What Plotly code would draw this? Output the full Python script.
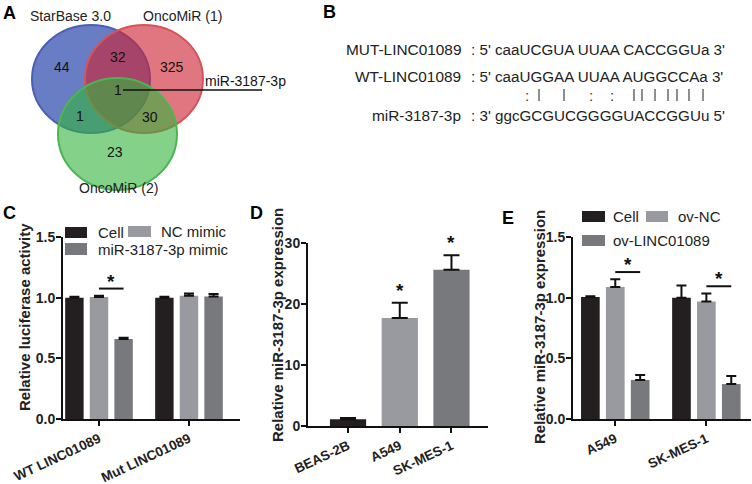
import plotly.graph_objects as go

W, H = 752, 484
FONT = "Liberation Sans, Arial, sans-serif"

# ---------------- data ----------------
# Panel A (Venn)
venn_sets = ["StarBase 3.0", "OncoMiR (1)", "OncoMiR (2)"]
# SB only, O1 only, O2 only, SB&O1, SB&O2, O1&O2, all three
venn_counts = [44, 325, 23, 32, 1, 30, 1]
venn_highlight = "miR-3187-3p"

# Panel B (sequence alignment)
seq_names = ["MUT-LINC01089", "WT-LINC01089", "miR-3187-3p"]
seq_texts = [": 5' caaUCGUA UUAA CACCGGUa 3'",
             ": 5' caaUGGAA UUAA AUGGCCAa 3'",
             ": 3' ggcGCGUCGGGGUACCGGUu 5'"]
pair_symbols = [":", "|", "|", ":", ":", "|", "|", "|", "|", "|", "|", "|"]

# Panel C
c_groups = ["WT LINC01089", "Mut LINC01089"]
c_series = ["Cell", "NC mimic", "miR-3187-3p mimic"]
c_values = [[1.00, 1.00], [1.005, 1.015], [0.66, 1.01]]
c_errors = [[0.008, 0.008], [0.01, 0.02], [0.01, 0.02]]
c_sig = [0]          # group index with significance bar (NC vs mimic)

# Panel D
d_cells = ["BEAS-2B", "A549", "SK-MES-1"]
d_values = [1.1, 17.7, 25.6]
d_errors = [0.2, 2.5, 2.4]
d_sig = [1, 2]

# Panel E
e_groups = ["A549", "SK-MES-1"]
e_series = ["Cell", "ov-NC", "ov-LINC01089"]
e_values = [[1.005, 1.0], [1.088, 0.968], [0.322, 0.288]]
e_errors = [[0.006, 0.10], [0.063, 0.066], [0.04, 0.066]]
e_sig = [0, 1]

# ---------------- style ----------------
colors = ["#231f20", "#989a9f", "#78797d"]
BARGAP, GROUPGAP = 0.18, 0.25
SLOT = (1 - BARGAP) / 3


def px(x):
    return x / W


def py(y):
    return 1 - y / H


fig = go.Figure()

# ---- bars C ----
for i, s in enumerate(c_series):
    fig.add_trace(go.Bar(
        x=list(range(len(c_groups))), y=c_values[i], name=s,
        marker=dict(color=colors[i], line=dict(width=0)),
        error_y=dict(type="data", array=c_errors[i], arrayminus=[0] * len(c_groups),
                     symmetric=False, color="#111", thickness=2, width=5),
        xaxis="x", yaxis="y", showlegend=False))

# ---- bars D ----
fig.add_trace(go.Bar(
    x=list(range(len(d_cells))), y=d_values, width=0.70,
    marker=dict(color=colors, line=dict(width=0)),
    error_y=dict(type="data", array=d_errors, arrayminus=[0] * len(d_cells),
                 symmetric=False, color="#111", thickness=2, width=8),
    xaxis="x2", yaxis="y2", showlegend=False))

# ---- bars E ----
for i, s in enumerate(e_series):
    fig.add_trace(go.Bar(
        x=list(range(len(e_groups))), y=e_values[i], name=s,
        marker=dict(color=colors[i], line=dict(width=0)),
        error_y=dict(type="data", array=e_errors[i], arrayminus=[0] * len(e_groups),
                     symmetric=False, color="#111", thickness=2, width=5),
        xaxis="x3", yaxis="y3", showlegend=False))

shapes = []
annotations = []

# significance bars C / E
def sig_bar(xr, yr, g, vals, errs):
    top = max(vals[1][g] + errs[1][g], vals[2][g] + errs[2][g])
    yl = top + 0.06
    shapes.append(dict(type="line", xref=xr, yref=yr, x0=g, x1=g + SLOT, y0=yl, y1=yl,
                       line=dict(color="#111", width=2)))
    annotations.append(dict(xref=xr, yref=yr, x=g + SLOT / 2, y=yl, text="<b>*</b>",
                            showarrow=False, yanchor="bottom", yshift=-5,
                            font=dict(size=19, color="#111", family=FONT)))

for g in c_sig:
    sig_bar("x", "y", g, c_values, c_errors)
for g in e_sig:
    sig_bar("x3", "y3", g, e_values, e_errors)
for g in d_sig:
    annotations.append(dict(xref="x2", yref="y2", x=g, y=d_values[g] + d_errors[g],
                            text="<b>*</b>", showarrow=False, yanchor="bottom", yshift=0,
                            font=dict(size=19, color="#111", family=FONT)))

# ---- panel A: Venn ----
venn_circles = [  # (x0, y0, x1, y1) in px, fill, line
    ((32, 25, 150, 133), "rgba(40,70,170,0.70)", "#4b5fb4"),
    ((85, 25, 203, 133), "rgba(205,35,50,0.62)", "#d6535c"),
    ((58, 78, 177, 190), "rgba(50,180,60,0.60)", "#4cb552"),
]
for (x0, y0, x1, y1), fc, lc in venn_circles:
    shapes.append(dict(type="circle", xref="paper", yref="paper",
                       x0=px(x0), x1=px(x1), y0=py(y1), y1=py(y0),
                       fillcolor=fc, line=dict(color=lc, width=2)))
venn_label_pos = [(70, 16), (182, 16), (118, 188)]
for name, (x, y) in zip(venn_sets, venn_label_pos):
    annotations.append(dict(xref="paper", yref="paper", x=px(x), y=py(y), text=name,
                            showarrow=False, xanchor="center", yanchor="middle",
                            font=dict(size=14, color="#222", family=FONT)))
venn_count_pos = [(62, 67), (172, 67), (115, 152), (118, 57), (80, 116), (150, 117), (118, 90)]
for cnt, (x, y) in zip(venn_counts, venn_count_pos):
    annotations.append(dict(xref="paper", yref="paper", x=px(x), y=py(y), text=str(cnt),
                            showarrow=False, xanchor="center", yanchor="middle",
                            font=dict(size=14, color="#111", family=FONT)))
shapes.append(dict(type="line", xref="paper", yref="paper", x0=px(123), x1=px(262),
                   y0=py(90), y1=py(90), line=dict(color="#111", width=1.5)))
annotations.append(dict(xref="paper", yref="paper", x=px(203), y=py(81), text=venn_highlight,
                        showarrow=False, xanchor="left", yanchor="middle",
                        font=dict(size=14, color="#111", family=FONT)))

# ---- panel B: alignment ----
seq_y = [49, 76, 115]
for name, txt, y in zip(seq_names, seq_texts, seq_y):
    annotations.append(dict(xref="paper", yref="paper", x=px(463), y=py(y), text=name,
                            showarrow=False, xanchor="right", yanchor="middle",
                            font=dict(size=15.4, color="#222", family=FONT)))
    annotations.append(dict(xref="paper", yref="paper", x=px(469), y=py(y), text=txt,
                            showarrow=False, xanchor="left", yanchor="middle",
                            font=dict(size=15.2, color="#222", family=FONT)))
pair_x = [527, 539, 564, 591, 612, 634, 642, 655, 668, 677, 689, 703]
for sym, x in zip(pair_symbols, pair_x):
    if sym == "|":
        shapes.append(dict(type="line", xref="paper", yref="paper", x0=px(x), x1=px(x),
                           y0=py(101), y1=py(89), line=dict(color="#444", width=1.2)))
    else:
        annotations.append(dict(xref="paper", yref="paper", x=px(x), y=py(95), text=sym,
                                showarrow=False, xanchor="center", yanchor="middle",
                                font=dict(size=15.2, color="#333", family=FONT)))

# ---- panel letters ----
for letter, (x, y) in zip("ABCDE", [(9, 13), (329, 12), (9, 213), (256, 213), (508, 218)]):
    annotations.append(dict(xref="paper", yref="paper", x=px(x), y=py(y), text="<b>%s</b>" % letter,
                            showarrow=False, xanchor="center", yanchor="middle",
                            font=dict(size=18, color="#000", family=FONT)))

# ---- legends (manual) ----
def legend_item(x0, y0, x1, y1, color, label, tx):
    shapes.append(dict(type="rect", xref="paper", yref="paper", x0=px(x0), x1=px(x1),
                       y0=py(y1), y1=py(y0), fillcolor=color, line=dict(width=0)))
    annotations.append(dict(xref="paper", yref="paper", x=px(tx), y=py((y0 + y1) / 2), text=label,
                            showarrow=False, xanchor="left", yanchor="middle",
                            font=dict(size=15, color="#222", family=FONT)))

legend_item(65, 227, 87, 238, colors[0], c_series[0], 96)
legend_item(128, 226, 151, 237, colors[1], c_series[1], 159)
legend_item(65, 243, 87, 255, colors[2], c_series[2], 96)
legend_item(582, 211, 605, 222, colors[0], e_series[0], 611)
legend_item(646, 211, 668, 222, colors[1], e_series[1], 676)
legend_item(582, 235, 605, 246, colors[2], e_series[2], 611)

# ---- y axis titles ----
ytitles = [("Relative luciferase activity", 24, 317),
           ("Relative miR-3187-3p expression", 277, 325),
           ("Relative miR-3187-3p expression", 539, 327)]
for t, x, y in ytitles:
    annotations.append(dict(xref="paper", yref="paper", x=px(x), y=py(y), text="<b>%s</b>" % t,
                            showarrow=False, textangle=-90, xanchor="center", yanchor="middle",
                            font=dict(size=15, color="#222", family=FONT)))

axis_common = dict(showline=True, linecolor="#111", linewidth=2, ticks="outside",
                   ticklen=5, tickwidth=2, tickcolor="#111", showgrid=False, zeroline=False,
                   automargin=False,
                   tickfont=dict(size=14, color="#222", family=FONT, weight="bold"))
ycommon = dict(axis_common, ticklabelstandoff=-2)
xcommon = dict(axis_common, tickangle=-25,
               tickfont=dict(size=13.5, color="#222", family=FONT, weight="bold"))

fig.update_layout(
    template="none",
    width=W, height=H, autosize=False,
    margin=dict(l=0, r=0, t=0, b=0, pad=0, autoexpand=False),
    font=dict(family=FONT, color="#222"),
    paper_bgcolor="white", plot_bgcolor="white",
    barmode="group", bargap=BARGAP, bargroupgap=GROUPGAP,
    xaxis=dict(xcommon, domain=[px(63), px(240)], range=[-0.4, 1.567],
               tickvals=list(range(len(c_groups))), ticktext=c_groups, anchor="y"),
    yaxis=dict(ycommon, domain=[py(419), py(237)], range=[0, 1.5],
               tickvals=[0, 0.5, 1.0, 1.5], tickformat=".1f", anchor="x"),
    xaxis2=dict(xcommon, domain=[px(308), px(488)], range=[-0.774, 2.706],
                tickvals=list(range(len(d_cells))), ticktext=d_cells, anchor="y2"),
    yaxis2=dict(ycommon, domain=[py(426), py(243)], range=[0, 30],
                tickvals=[0, 10, 20, 30], anchor="x2"),
    xaxis3=dict(xcommon, domain=[px(573), px(751)], range=[-0.464, 1.49],
                tickvals=list(range(len(e_groups))), ticktext=e_groups, anchor="y3"),
    yaxis3=dict(ycommon, domain=[py(419), py(237)], range=[0, 1.5],
                tickvals=[0, 0.5, 1.0, 1.5], tickformat=".1f", anchor="x3"),
    shapes=shapes, annotations=annotations,
)

fig.write_html("out.html", config={"displayModeBar": False},
               post_script="document.body.style.margin='0';document.body.style.padding='0';"
                           "document.body.style.overflow='hidden';")
